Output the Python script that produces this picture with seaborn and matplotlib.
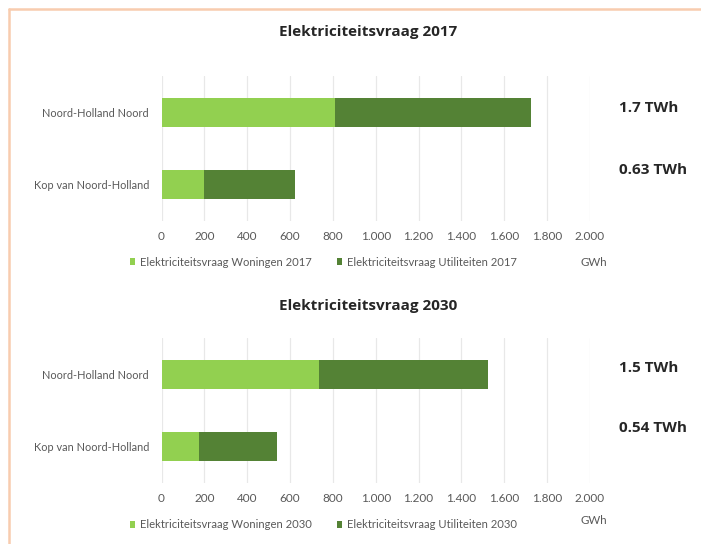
import matplotlib
matplotlib.use("Agg")
import matplotlib.pyplot as plt
from matplotlib.lines import Line2D
from matplotlib.patches import Patch
from matplotlib.ticker import FuncFormatter
import numpy as np
import pandas as pd
import seaborn as sns

# Regions and electricity demand (GWh)
regions = ["Noord-Holland Noord", "Kop van Noord-Holland"]
woningen_2017 = [810, 200]
utiliteiten_2017 = [915, 425]
woningen_2030 = [735, 175]
utiliteiten_2030 = [790, 365]
totals_label_2017 = ["1.7 TWh", "0.63 TWh"]
totals_label_2030 = ["1.5 TWh", "0.54 TWh"]
x_ticks = [0, 200, 400, 600, 800, 1000, 1200, 1400, 1600, 1800, 2000]

LIGHT = "#92D050"
DARK = "#548235"
GREY = "#595959"
TITLE = "#262626"
FRAME = "#F8CCAF"

sns.set_theme(style="white")
plt.rcParams["font.family"] = ["Lato", "DejaVu Sans"]

W, H = 701, 544
fig = plt.figure(figsize=(W / 100, H / 100), dpi=100)
fig.patch.set_facecolor("white")


def fx(px):
    return px / W


def fy(py):
    return 1 - py / H


def panel(ax_top, ax_bottom, year, woningen, utiliteiten, title_y,
          legend_y, gwh_y):
    ax = fig.add_axes([fx(161.5), fy(ax_bottom), fx(590) - fx(161.5),
                       fy(ax_top) - fy(ax_bottom)])
    df = pd.DataFrame({
        "regio": regions,
        "woningen": woningen,
        "totaal": np.array(woningen) + np.array(utiliteiten),
    })
    # stacked bars: full total in dark green, housing share on top in light green
    sns.barplot(data=df, y="regio", x="totaal", color=DARK, orient="h",
                width=0.4, saturation=1, ax=ax, edgecolor="none")
    sns.barplot(data=df, y="regio", x="woningen", color=LIGHT, orient="h",
                width=0.4, saturation=1, ax=ax, edgecolor="none")
    ax.set_xlim(0, 2000)
    ax.set_ylim(1.5, -0.5)
    ax.set_xticks(x_ticks)
    ax.xaxis.set_major_formatter(
        FuncFormatter(lambda v, _: f"{int(v):,}".replace(",", ".")))
    ax.grid(axis="x", color="#E8E8E8", linewidth=0.9)
    ax.set_axisbelow(True)
    for s in ax.spines.values():
        s.set_visible(False)
    ax.set_xlabel("")
    ax.set_ylabel("")
    ax.tick_params(axis="x", length=0, pad=7, labelsize=8.5, labelcolor=GREY)
    ax.tick_params(axis="y", length=0, pad=9, labelsize=7.9, labelcolor=GREY)

    fig.text(fx(368), fy(title_y), f"Elektriciteitsvraag {year}",
             ha="center", va="center", fontsize=11, fontweight="bold",
             color=TITLE, family="Open Sans")

    handles = [Patch(facecolor=LIGHT, edgecolor="none"),
               Patch(facecolor=DARK, edgecolor="none")]
    fig.legend(handles, [f"Elektriciteitsvraag Woningen {year}",
                         f"Elektriciteitsvraag Utiliteiten {year}"],
               loc="center left", bbox_to_anchor=(fx(130), fy(legend_y)),
               ncol=2, frameon=False, fontsize=8.1, labelcolor=GREY,
               handlelength=0.45, handleheight=0.45, handletextpad=0.4,
               columnspacing=2.3, borderpad=0, borderaxespad=0)
    fig.text(fx(594), fy(gwh_y), "GWh", ha="center", va="center",
             fontsize=8.3, color=GREY)
    return ax


panel(76, 221, 2017, woningen_2017, utiliteiten_2017, 32, 262, 262)
panel(338, 483, 2030, woningen_2030, utiliteiten_2030, 306, 525, 521)

# Totals in TWh beside each chart
for label, y in zip(totals_label_2017, [108, 170]):
    fig.text(fx(619), fy(y), label, ha="left", va="center", fontsize=11,
             fontweight="bold", color=TITLE, family="Open Sans")
for label, y in zip(totals_label_2030, [368, 428]):
    fig.text(fx(619), fy(y), label, ha="left", va="center", fontsize=11,
             fontweight="bold", color=TITLE, family="Open Sans")

# Page frame on the left and top
fig.add_artist(Line2D([fx(9), fx(9)], [fy(9), 0], color=FRAME, linewidth=1.8))
fig.add_artist(Line2D([fx(9), 1], [fy(9), fy(9)], color=FRAME, linewidth=1.8))

fig.savefig("out.png", dpi=100, facecolor="white")
